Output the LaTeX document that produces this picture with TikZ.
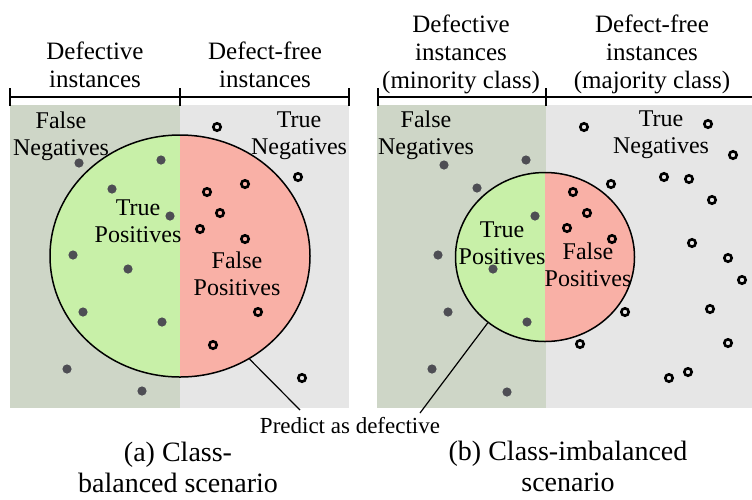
\documentclass[tikz,border=0pt]{standalone}
\usepackage{fontspec}
\setmainfont{Liberation Serif}
\definecolor{defgray}{RGB}{206,214,199}
\definecolor{cleangray}{RGB}{230,230,230}
\definecolor{tpgreen}{RGB}{200,240,168}
\definecolor{fpred}{RGB}{249,176,166}
\definecolor{dotgray}{RGB}{78,78,84}
\usetikzlibrary{shapes.geometric}

\begin{document}
\begin{tikzpicture}[x=1pt, y=-1pt,
  head/.style={font=\fontsize{25}{28}\selectfont, align=center, inner sep=0pt},
  lbl/.style={font=\fontsize{24}{27}\selectfont, align=center, inner sep=0pt},
  capt/.style={font=\fontsize{28}{31}\selectfont, align=center, inner sep=0pt},
  region/.style={ellipse, draw, line width=1.5pt, inner sep=0pt},
  bracket/.style={line width=1.3pt},
  pointer/.style={line width=1.2pt},
  cleandot/.style={draw=black, line width=2.6pt},
]
  \useasboundingbox (0,0) rectangle (752,499);

  % (a) class-balanced
  \fill[defgray] (10,105) rectangle (180,408);
  \fill[cleangray] (180,105) rectangle (349,408);
  \begin{scope}
    \clip (180,256) ellipse [x radius=130pt, y radius=121pt];
    \fill[tpgreen] (40,120) rectangle (180,390);
    \fill[fpred] (180,120) rectangle (320,390);
  \end{scope}
  \foreach \px/\py in {79/163, 161/160, 112/189, 170/216, 73/255, 128/269,
      83/312, 162/322, 67/369, 142/391}
    \fill[dotgray] (\px,\py) circle[radius=4.6pt];
  \foreach \px/\py in {217/127, 298/177, 245/184, 207/192, 220/213, 200/229,
      245/239, 258/312, 213/345, 302/378}
    \draw[cleandot] (\px,\py) circle[radius=3.7pt];
  \node[region, minimum width=260pt, minimum height=242pt] (balcirc) at (180,256) {};
  \draw[bracket] (10,97) -- (349,97);
  \draw[bracket] (10,88) -- (10,106) (180,88) -- (180,106) (349,88) -- (349,106);
  \node[head] (baldef) at (95,65) {Defective\\instances};
  \node[head] (balfree) at (265,65) {Defect-free\\instances};
  \node[lbl] (balfn) at (61,136) {False\\Negatives};
  \node[lbl] (baltn) at (299,136) {True\\Negatives};
  \node[lbl] (baltp) at (138,221) {True\\Positives};
  \node[lbl] (balfp) at (237,274) {False\\Positives};
  \node[capt] (balcap) at (178,467) {(a) Class-\\balanced scenario};

  % (b) class-imbalanced
  \fill[defgray] (377,105) rectangle (546,408);
  \fill[cleangray] (546,105) rectangle (752,408);
  \begin{scope}
    \clip (545,257) ellipse [x radius=89.5pt, y radius=84.5pt];
    \fill[tpgreen] (450,170) rectangle (545,345);
    \fill[fpred] (545,170) rectangle (640,345);
  \end{scope}
  \foreach \px/\py in {444/165, 526/160, 477/188, 535/216, 438/255, 493/269,
      448/312, 527/322, 432/369, 507/392}
    \fill[dotgray] (\px,\py) circle[radius=4.6pt];
  \foreach \px/\py in {584/127, 708/124, 733/155, 664/177, 689/179, 611/184,
      712/200, 573/192, 587/213, 567/228, 612/239, 692/243, 728/258, 742/280,
      625/312, 710/309, 728/343, 580/344, 669/378, 688/372}
    \draw[cleandot] (\px,\py) circle[radius=3.7pt];
  \node[region, minimum width=179pt, minimum height=169pt] (imbcirc) at (545,257) {};
  \draw[bracket] (378,97) -- (752,97);
  \draw[bracket] (378,88) -- (378,106) (546,88) -- (546,106);
  \node[head] (imbdef) at (461,54) {Defective\\instances\\(minority class)};
  \node[head] (imbfree) at (652,54) {Defect-free\\instances\\(majority class)};
  \node[lbl] (imbfn) at (426,135) {False\\Negatives};
  \node[lbl] (imbtn) at (661,135) {True\\Negatives};
  \node[lbl] (imbtp) at (502,243) {True\\Positives};
  \node[lbl] (imbfp) at (588,265) {False\\Positives};
  \node[capt] (imbcap) at (568,466) {(b) Class-imbalanced\\scenario};

  % shared pointer label
  \node[font=\fontsize{23}{27}\selectfont, inner sep=0pt] (predict) at (350,426) {Predict as defective};
  \coordinate (balend) at (300,410);
  \coordinate (imbend) at (420,413);
  \draw[pointer] (balcirc.-56) -- (balend);
  \draw[pointer] (imbcirc.-131) -- (imbend);
\end{tikzpicture}
\end{document}
